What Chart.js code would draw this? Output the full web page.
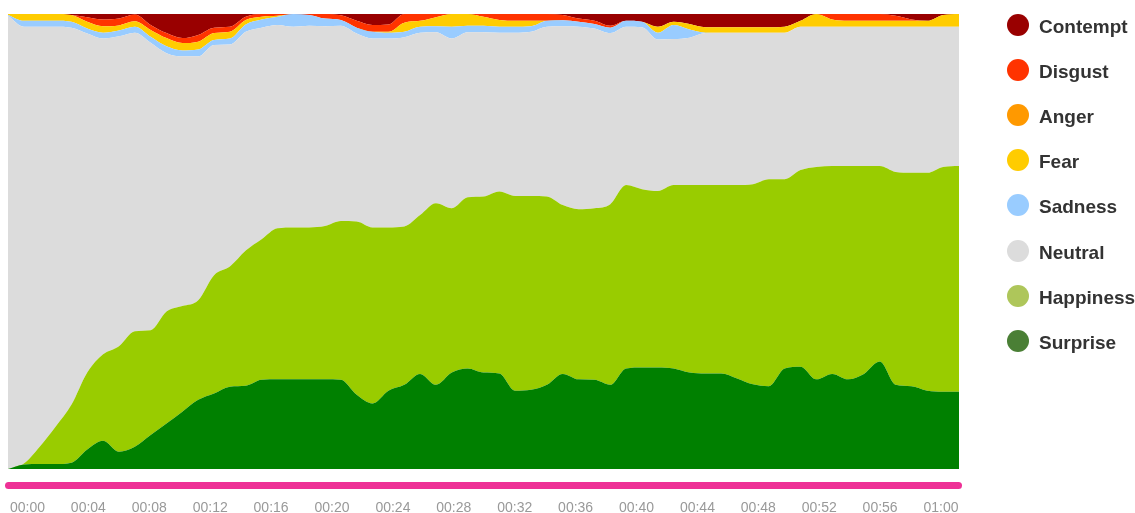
<!DOCTYPE html>
<html>
<head>
<meta charset="utf-8">
<script src="https://cdn.jsdelivr.net/npm/chart.js@4.4.0/dist/chart.umd.min.js"></script>
<style>
  body { margin: 0; background: #fff; }
  #wrap { position: relative; width: 1135px; height: 513px; overflow: hidden; }
  #chartBox { position: absolute; left: 0; top: 0; width: 1135px; height: 513px; }
  #legend { position: absolute; left: 1007px; top: 0; width: 128px; height: 513px;
    font: bold 19px "Liberation Sans", Arial, sans-serif; color: #333; }
  .item { position: absolute; left: 0; height: 22px; white-space: nowrap; }
  .dot { position: absolute; left: 0; top: 0; width: 22px; height: 22px; border-radius: 50%; }
  .lbl { position: absolute; left: 32px; top: 2px; line-height: 22px; }
</style>
</head>
<body>
<div id="wrap">
  <div id="chartBox"><canvas id="emoChart"></canvas></div>
  <div id="legend"></div>
</div>
<script>
  // seconds of the clip
  const seconds = [0,1,2,3,4,5,6,7,8,9,10,11,12,13,14,15,16,17,18,19,20,
    21,22,23,24,25,26,27,28,29,30,31,32,33,34,35,36,37,38,39,40,
    41,42,43,44,45,46,47,48,49,50,51,52,53,54,55,56,57,58,59,60];

  const tickSeconds = [0,4,8,12,16,20,24,28,32,36,40,44,48,52,56,60];
  const tickLabels = ['00:00','00:04','00:08','00:12','00:16','00:20','00:24','00:28',
    '00:32','00:36','00:40','00:44','00:48','00:52','00:56','01:00'];

  // share of each emotion in %, stacked bottom -> top
  const surprise = [0,1.0,1.1,1.1,1.4,4.3,6.2,3.8,4.9,7.5,
    10.0,12.6,15.2,16.6,18.1,18.3,19.6,19.7,19.7,19.7,
    19.7,19.6,16.3,14.4,17.2,18.5,20.9,18.5,21.2,22.1,
    21.2,21.0,17.2,17.4,18.5,20.9,19.7,19.6,18.5,22.1,
    22.3,22.3,22.1,21.2,21.0,21.0,19.9,18.6,18.2,22.1,
    22.5,19.7,20.9,19.7,20.9,23.6,18.5,18.2,17.2,17.0,
    17.0];
  const happiness = [0,0.2,3.8,8.2,12.7,16.9,19.0,23.2,25.4,23.0,
    24.6,23.2,21.9,26.0,26.4,29.7,30.9,33.2,33.4,33.4,
    33.7,34.9,38.1,38.7,35.9,34.8,34.9,39.9,36.1,37.6,
    38.7,40.0,42.8,42.6,41.4,37.1,37.4,37.7,39.7,40.3,
    39.2,38.8,40.3,41.2,41.4,41.4,42.5,44.0,45.5,41.6,
    43.2,46.7,45.7,46.9,45.7,43.0,46.8,46.9,47.9,49.4,
    49.6];
  const neutral = [99.6,96.0,92.3,87.9,82.9,74.5,69.4,68.1,65.6,63.2,
    56.8,54.9,53.6,50.6,48.8,48.1,46.5,44.7,44.1,44.3,
    43.9,42.9,41.3,41.5,41.5,41.6,40.1,37.6,37.3,36.3,
    36.1,34.9,35.9,36.1,37.3,39.3,40.1,39.5,37.6,34.8,
    35.6,33.3,32.1,32.4,33.4,33.5,33.5,33.3,32.2,32.2,
    31.5,30.8,30.6,30.6,30.6,30.6,31.9,32.1,32.1,30.8,
    30.6];
  const sadness = [0.2,1.3,1.3,1.3,1.3,1.1,1.3,1.3,1.3,1.3,
    1.5,1.3,1.5,1.1,1.3,1.6,1.8,1.8,2.8,2.4,
    1.7,1.3,1.3,1.5,1.3,1.2,1.3,1.3,2.6,1.4,
    1.4,1.3,1.3,1.2,1.3,1.3,1.1,1.0,1.2,1.3,
    1.2,1.5,3.1,1.8,0.1,0,0,0,0,0,
    0,0,0,0,0,0,0,0,0,0,
    0];
  const fear = [0.2,1.5,1.5,1.5,1.5,1.5,1.4,1.1,1.2,1.5,
    1.8,1.6,1.7,1.5,1.5,1.0,0.6,0.2,0,0,
    0,0,0,0,0.2,2.0,1.3,2.0,2.8,2.6,
    2.0,1.5,1.3,1.2,0,0,0,0,0,0,
    0,1.3,0.7,1.2,1.2,1.2,1.2,1.2,1.2,1.3,
    1.3,2.8,1.6,1.3,1.3,1.3,1.3,1.3,1.3,2.6,
    2.8];
  const anger = [0,0,0,0,0,0,0,0,0,0,
    0,0,0,0,0,0,0,0,0,0,
    0,0,0,0,0,0,0,0,0,0,
    0,0,0,0,0,0,0,0,0,0,
    0,0,0,0,0,0,0,0,0,0,
    0,0,0,0,0,0,0,0,0,0,
    0];
  const disgust = [0,0,0,0,0,1.0,1.5,1.5,1.5,1.1,
    1.1,1.1,1.5,1.2,1.1,0.7,0.6,0.4,0,0.2,
    1.0,1.0,1.5,1.5,1.6,1.9,1.5,0.7,0,0,
    0.6,1.3,1.5,1.5,1.5,1.2,0.7,0.7,0.4,0,
    0,0,0,0,0,0,0,0,0,0,
    0,0,1.2,1.5,1.5,1.5,1.1,0.3,0,0,
    0];
  const contempt = [0,0,0,0,0.2,0.7,1.2,1.0,0.1,2.4,
    4.2,5.3,4.6,3.0,2.8,0.6,0,0,0,0,
    0,0.3,1.5,2.4,2.3,0,0,0,0,0,
    0,0,0,0,0,0.2,1.0,1.5,2.6,1.5,
    1.7,2.8,1.7,2.2,2.9,2.9,2.9,2.9,2.9,2.8,
    1.5,0,0,0,0,0,0.4,1.2,1.5,0.2,
    0];

  const names = ['Surprise','Happiness','Neutral','Sadness','Fear','Anger','Disgust','Contempt'];
  const series = [surprise, happiness, neutral, sadness, fear, anger, disgust, contempt];
  const fillColors = ['#008000','#99cc00','#dcdcdc','#99ccff','#ffcc00','#ff9900','#ff3300','#990000'];
  const dotColors = ['#4a7f35','#aec65a','#dcdcdc','#99ccff','#ffcc00','#ff9900','#ff3300','#990000'];

  const datasets = names.map((n, i) => ({
    label: n,
    data: series[i],
    backgroundColor: fillColors[i],
    borderColor: fillColors[i],
    borderWidth: n === 'Contempt' ? 1 : 0,
    fill: i === 0 ? 'origin' : '-1',
    pointRadius: 0,
    cubicInterpolationMode: 'monotone'
  }));

  // pink bar under the plot
  const timeBar = {
    id: 'timeBar',
    afterDraw(chart) {
      const ctx = chart.ctx;
      const a = chart.chartArea;
      ctx.save();
      ctx.strokeStyle = '#ee3196';
      ctx.lineWidth = 7;
      ctx.lineCap = 'round';
      ctx.beginPath();
      ctx.moveTo(a.left + 0.5, 485.5);
      ctx.lineTo(a.right - 0.5, 485.5);
      ctx.stroke();
      ctx.restore();
    }
  };

  new Chart(document.getElementById('emoChart'), {
    type: 'line',
    data: { labels: seconds, datasets: datasets },
    options: {
      responsive: true,
      maintainAspectRatio: false,
      animation: false,
      layout: { padding: { left: 8, right: 176, top: 14, bottom: 0 }, autoPadding: false },
      plugins: { legend: { display: false }, tooltip: { enabled: false } },
      scales: {
        x: { type: 'linear', min: 0, max: 60, display: false },
        xt: {
          type: 'linear', axis: 'x', position: 'bottom',
          min: -1.28, max: 61.18,
          grid: { display: false, drawTicks: false },
          border: { display: false },
          afterBuildTicks: s => { s.ticks = tickSeconds.map(v => ({ value: v })); },
          afterFit: s => { s.height = 44; s.paddingLeft = 0; s.paddingRight = 0; },
          ticks: {
            autoSkip: false, maxRotation: 0, padding: 32.5,
            color: '#999',
            font: { family: '"Liberation Sans", Arial, sans-serif', size: 14, lineHeight: 1 },
            callback: (v, i) => tickLabels[i]
          }
        },
        y: { stacked: true, min: 0, max: 100, display: false }
      }
    },
    plugins: [timeBar]
  });

  // legend, top item is the top layer
  const legend = document.getElementById('legend');
  for (let i = names.length - 1, row = 0; i >= 0; i--, row++) {
    const it = document.createElement('div');
    it.className = 'item';
    it.style.top = (13.5 + row * 45.2) + 'px';
    it.innerHTML = '<span class="dot" style="background:' + dotColors[i] + '"></span><span class="lbl">' + names[i] + '</span>';
    legend.appendChild(it);
  }
</script>
</body>
</html>
